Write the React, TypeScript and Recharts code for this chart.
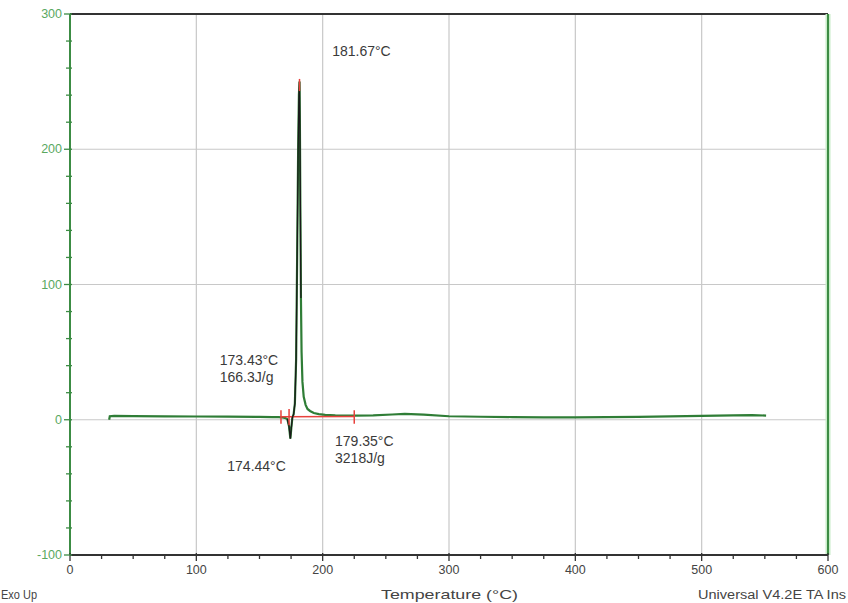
import React from 'react';
import { LineChart, Line, XAxis, YAxis, ReferenceLine, ReferenceDot } from 'recharts';

// DSC curve (temperature °C, heat flow W/g)
const temperature = [31, 31.5, 35, 50, 75, 100, 125, 150, 160, 165, 168, 170, 172, 173.4, 174.44, 175.2, 176, 177, 178, 179, 179.8, 180.6, 181.2, 181.67, 182, 182.4, 182.8, 183.3, 184, 185, 186.5, 188, 190, 193, 197, 202, 210, 225, 240, 255, 265, 280, 300, 325, 350, 375, 400, 425, 450, 475, 500, 525, 540, 551];
const heatFlow = [0, 2.6, 2.8, 2.7, 2.5, 2.4, 2.3, 2.1, 2.0, 1.9, 1.7, 1.4, 0.5, -5, -14, -6, 1.5, 4, 12, 45, 120, 200, 240, 250, 215, 150, 90, 50, 28, 17, 11, 8, 6.5, 5, 4.2, 3.6, 3.2, 3.0, 3.2, 3.9, 4.3, 3.8, 2.6, 2.2, 2.0, 1.8, 1.7, 1.9, 2.1, 2.5, 2.9, 3.2, 3.4, 3.1];

// dark overlay of the melting region
const peakTemps = [172, 173.4, 174.44, 175.2, 176, 177, 178, 179, 179.8, 180.6, 181.2, 181.67, 182, 182.4, 182.8];
const peakFlow = [0.5, -5, -14, -6, 1.5, 4, 12, 45, 120, 200, 240, 250, 215, 150, 90];

// red integration baseline and limit markers
const baselineTemps = [167, 225];
const baselineFlow = [2.2, 2.4];
const limitA = { t: [167, 167], hf: [-3, 7] };
const limitB = { t: [225, 225], hf: [-3, 7] };
const limitC = { t: [173.4, 173.4], hf: [-4, 8] };
const peakMark = { t: [181.67, 181.67], hf: [243, 252] };

const xTicks = [0, 25, 50, 75, 100, 125, 150, 175, 200, 225, 250, 275, 300, 325, 350, 375, 400, 425, 450, 475, 500, 525, 550, 575, 600];
const yTicks = [-100, -80, -60, -40, -20, 0, 20, 40, 60, 80, 100, 120, 140, 160, 180, 200, 220, 240, 260, 280, 300];
const xGrid = [100, 200, 300, 400, 500];
const yGrid = [0, 100, 200];

const annotations = [
  { t: 207.5, hf: 273, lines: ['181.67°C'] },
  { t: 118.5, hf: 44.5, lines: ['173.43°C', '166.3J/g'] },
  { t: 209.8, hf: -15.5, lines: ['179.35°C', '3218J/g'] },
  { t: 124.5, hf: -34, lines: ['174.44°C'] },
];

const pairs = (ts: number[], vs: number[]) => ts.map((t, i) => ({ t, hf: vs[i] }));
const curve = pairs(temperature, heatFlow);
const peak = pairs(peakTemps, peakFlow);
const baseline = pairs(baselineTemps, baselineFlow);

const FONT = '"Liberation Sans", Arial, sans-serif';
const GREEN = '#2f7d36';
const AXISGREEN = '#3c8c44';

const XTick = (props: any) => {
  const { x, y, payload } = props;
  const major = payload.value % 100 === 0;
  return (
    <g>
      <line x1={x} x2={x} y1={y - (major ? 2 : 1)} y2={y + (major ? 6 : 4)} stroke="#333" strokeWidth={1.3} />
      {major && (
        <text x={x} y={y + 19} textAnchor="middle" fontSize={12.5} fontFamily={FONT} fill="#444">
          {payload.value}
        </text>
      )}
    </g>
  );
};

const YTick = (props: any) => {
  const { x, y, payload } = props;
  const major = payload.value % 100 === 0;
  return (
    <g>
      <line x1={x - (major ? 6 : 4)} x2={x + 2} y1={y} y2={y} stroke={AXISGREEN} strokeWidth={1.3} />
      {major && (
        <text x={x - 8} y={y + 4} textAnchor="end" fontSize={12.5} fontFamily={FONT} fill="#5aa85f">
          {payload.value}
        </text>
      )}
    </g>
  );
};

const Annot = (lines: string[]) => (props: any) => {
  const vb = props.viewBox || {};
  return (
    <text x={vb.x} y={vb.y} fontSize={14} fontFamily={FONT} fill="#3a3a3a">
      {lines.map((l, i) => (
        <tspan key={i} x={vb.x} dy={i === 0 ? 5 : 17}>
          {l}
        </tspan>
      ))}
    </text>
  );
};

export default function App() {
  return (
    <div style={{ position: 'fixed', left: 0, top: 0, width: 848, height: 603, overflow: 'hidden', background: '#fff' }}>
      <div style={{ position: 'absolute', left: 0, top: 0 }}>
        <LineChart width={848} height={603} margin={{ top: 14, right: 20, left: 10, bottom: 18 }}>
          <XAxis
            type="number"
            dataKey="t"
            domain={[0, 600]}
            ticks={xTicks}
            interval={0}
            allowDataOverflow
            height={30}
            tickSize={0}
            tickMargin={0}
            tickLine={false}
            axisLine={{ stroke: '#333', strokeWidth: 2 }}
            tick={<XTick />}
          />
          <YAxis
            type="number"
            dataKey="hf"
            domain={[-100, 300]}
            ticks={yTicks}
            interval={0}
            allowDataOverflow
            width={60}
            tickSize={0}
            tickMargin={0}
            tickLine={false}
            axisLine={{ stroke: AXISGREEN, strokeWidth: 2 }}
            tick={<YTick />}
          />
          {xGrid.map((v) => (
            <ReferenceLine key={'gx' + v} x={v} stroke="#c8c8c8" strokeWidth={1.2} />
          ))}
          {yGrid.map((v) => (
            <ReferenceLine key={'gy' + v} y={v} stroke="#c8c8c8" strokeWidth={1.2} />
          ))}
          <ReferenceLine y={300} stroke="#333" strokeWidth={2} />
          <ReferenceLine x={600} stroke="#c8ecc8" strokeWidth={5} />
          <ReferenceLine x={600} stroke={AXISGREEN} strokeWidth={2} />
          <Line data={curve} dataKey="hf" type="linear" stroke={GREEN} strokeWidth={2.2} dot={false} isAnimationActive={false} />
          <Line data={baseline} dataKey="hf" type="linear" stroke="#e8413c" strokeWidth={1.5} dot={false} isAnimationActive={false} />
          <Line data={peak} dataKey="hf" type="linear" stroke="#1a1a1a" strokeWidth={1.3} dot={false} isAnimationActive={false} />
          {[limitA, limitB, limitC, peakMark].map((m, k) => (
            <Line
              key={'lim' + k}
              data={pairs(m.t, m.hf)}
              dataKey="hf"
              type="linear"
              stroke="#e8413c"
              strokeWidth={1.5}
              dot={false}
              isAnimationActive={false}
            />
          ))}
          {annotations.map((a, i) => (
            <ReferenceDot
              key={'an' + i}
              x={a.t}
              y={a.hf}
              r={0}
              fill="none"
              stroke="none"
              label={{ content: Annot(a.lines) }}
            />
          ))}
        </LineChart>
      </div>
      <svg width={848} height={603} style={{ position: 'absolute', left: 0, top: 0, pointerEvents: 'none' }}>
        <text x={1} y={599} fontSize={12} fontFamily={FONT} fill="#444" textLength={36} lengthAdjust="spacingAndGlyphs">
          Exo Up
        </text>
        <text x={381} y={599} fontSize={13} fontFamily={FONT} fill="#444" textLength={137} lengthAdjust="spacingAndGlyphs">
          Temperature (°C)
        </text>
        <text x={698} y={599} fontSize={12} fontFamily={FONT} fill="#444" textLength={148} lengthAdjust="spacingAndGlyphs">
          Universal V4.2E TA Ins
        </text>
      </svg>
    </div>
  );
}
